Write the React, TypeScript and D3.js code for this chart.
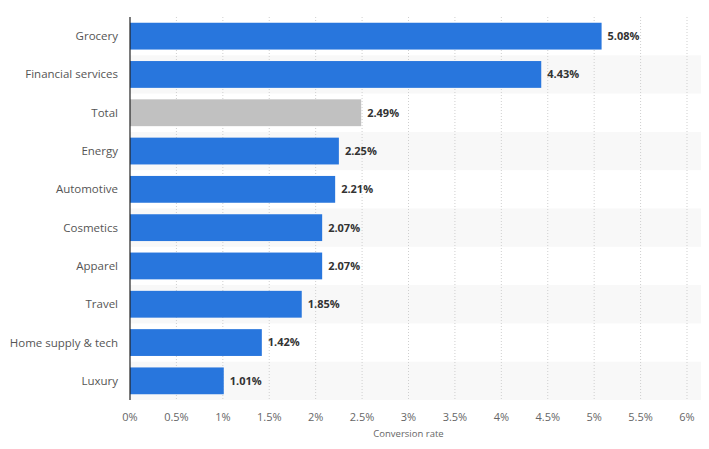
import React from 'react';
import * as d3 from 'd3';

const categories = [
  'Grocery',
  'Financial services',
  'Total',
  'Energy',
  'Automotive',
  'Cosmetics',
  'Apparel',
  'Travel',
  'Home supply & tech',
  'Luxury'
];
const values = [5.08, 4.43, 2.49, 2.25, 2.21, 2.07, 2.07, 1.85, 1.42, 1.01];
const highlighted = ['Total'];
const xTicks = [0, 0.5, 1, 1.5, 2, 2.5, 3, 3.5, 4, 4.5, 5, 5.5, 6];
const axisTitle = 'Conversion rate';

const width = 709;
const height = 449;
const margin = { top: 17, right: 22, bottom: 49, left: 130 };

const fontFamily = '"Open Sans", "Noto Sans", Arial, sans-serif';

const App: React.FC = () => {
  const x = d3.scaleLinear()
    .domain([0, 6])
    .range([margin.left, width - margin.right]);

  const y = d3.scaleBand<string>()
    .domain(categories)
    .range([margin.top, height - margin.bottom])
    .paddingInner(0.3)
    .paddingOuter(0.15);

  const step = y.step();
  const rowTop = (i: number) => margin.top + i * step;

  return (
    <div style={{ margin: -8 }}>
      <svg width={width} height={height} style={{ display: 'block', background: '#fff' }}>
        {/* alternating row stripes */}
        {categories.map((c, i) => i % 2 === 1 ? (
          <rect key={'s' + c} x={margin.left} y={rowTop(i)} width={width - margin.left}
            height={step} fill="#f8f8f8" />
        ) : null)}

        {/* dotted grid */}
        {xTicks.filter(t => t > 0).map(t => (
          <line key={'g' + t} x1={x(t)} x2={x(t)} y1={margin.top} y2={height - margin.bottom}
            stroke="#cfcfcf" strokeWidth={1} strokeDasharray="1,2" />
        ))}

        {/* bars */}
        {categories.map((c, i) => (
          <rect key={'b' + c} x={x(0)} y={y(c)} width={x(values[i]) - x(0)} height={y.bandwidth()}
            fill={highlighted.includes(c) ? '#c1c1c1' : '#2876dd'} />
        ))}

        {/* value labels */}
        {categories.map((c, i) => (
          <text key={'v' + c} x={x(values[i]) + 6} y={(y(c) as number) + y.bandwidth() / 2}
            dy="0.35em" fontFamily={fontFamily} fontSize={11} fontWeight="bold" fill="#333">
            {values[i].toFixed(2)}%
          </text>
        ))}

        {/* category labels */}
        {categories.map(c => (
          <text key={'c' + c} x={margin.left - 12} y={(y(c) as number) + y.bandwidth() / 2}
            dy="0.35em" textAnchor="end" fontFamily={fontFamily} fontSize={11.5} fill="#555">
            {c}
          </text>
        ))}

        {/* y axis line */}
        <line x1={margin.left} x2={margin.left} y1={margin.top} y2={height - margin.bottom}
          stroke="#222" strokeWidth={1.2} />

        {/* x tick labels */}
        {xTicks.map(t => (
          <text key={'t' + t} x={x(t)} y={421} textAnchor="middle"
            fontFamily={fontFamily} fontSize={11} fill="#666">
            {t}%
          </text>
        ))}

        <text x={(x(0) + x(6)) / 2} y={437} textAnchor="middle"
          fontFamily={fontFamily} fontSize={9.5} fill="#666">
          {axisTitle}
        </text>
      </svg>
    </div>
  );
};

export default App;
